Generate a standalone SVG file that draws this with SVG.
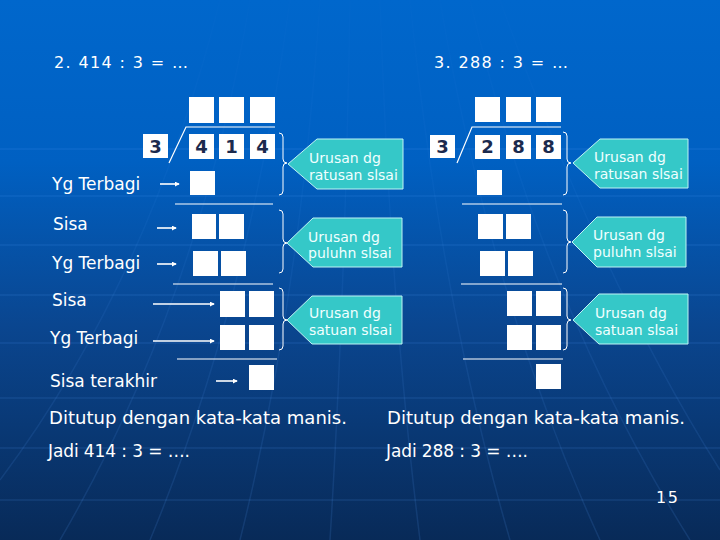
<svg xmlns="http://www.w3.org/2000/svg" width="720" height="540" viewBox="0 0 720 540">
<defs>
<linearGradient id="bg" x1="0" y1="0" x2="0" y2="1">
<stop offset="0" stop-color="#0067cc"/>
<stop offset="0.3" stop-color="#0060c2"/>
<stop offset="0.6" stop-color="#0a4690"/>
<stop offset="1" stop-color="#082a58"/>
</linearGradient>
<linearGradient id="fade" x1="0" y1="0" x2="0" y2="1">
<stop offset="0" stop-color="#ffffff" stop-opacity="0.1"/>
<stop offset="1" stop-color="#ffffff" stop-opacity="1"/>
</linearGradient>
<mask id="vmask"><rect x="0" y="0" width="720" height="540" fill="url(#fade)"/></mask>
<marker id="ah" viewBox="0 0 6 6" refX="5" refY="3" markerWidth="5" markerHeight="5" orient="auto" markerUnits="userSpaceOnUse">
<path d="M0,0 L6,3 L0,6 z" fill="#ffffff"/>
</marker>
<style>
.lbl{font-family:"DejaVu Sans","Liberation Sans",sans-serif;font-size:17px;fill:#ffffff}
.big{font-family:"DejaVu Sans","Liberation Sans",sans-serif;font-size:17px;fill:#ffffff}
.hdr{font-family:"DejaVu Sans","Liberation Sans",sans-serif;font-size:16px;fill:#ffffff}
.box{fill:#ffffff}
.dig{font-family:"DejaVu Sans","Liberation Sans",sans-serif;font-size:18px;font-weight:bold;fill:#1b2a4e;text-anchor:middle}
.rule{stroke:#ffffff;stroke-width:1.2;fill:none}
.brace{stroke:#ffffff;stroke-width:1;fill:none}
.arr{stroke:#ffffff;stroke-width:1.6;fill:none;marker-end:url(#ah)}
.call{fill:#35c8c8;stroke:#bff4f4;stroke-width:1}
.ctx{font-family:"DejaVu Sans","Liberation Sans",sans-serif;font-size:14px;fill:#f0ffff}
.grid{stroke:#5aa0ff;stroke-width:1.5;fill:none;opacity:0.14}
</style>
</defs>
<rect x="0" y="0" width="720" height="540" fill="url(#bg)"/>
<g id="background-grid">
<path class="grid" d="M0,149 H720 M0,196 H720 M0,245 H720 M0,295 H720 M0,343 H720 M0,398 H720 M0,448 H720 M0,500 H720"/>
<g mask="url(#vmask)">
<path class="grid" d="M250,0 Q200,300 60,540 M290,0 Q250,300 150,540 M320,0 Q300,300 240,540 M350,0 Q345,300 330,540 M380,0 Q390,300 420,540 M410,0 Q440,300 510,540 M440,0 Q490,300 600,540 M470,0 Q540,300 690,540 M220,0 Q150,280 0,480 M500,0 Q600,280 720,470"/>
</g>
</g>

<g id="headers">
<text class="hdr" x="54" y="68" textLength="134" lengthAdjust="spacing">2. 414 : 3 = …</text>
<text class="hdr" x="434" y="68" textLength="134" lengthAdjust="spacing">3. 288 : 3 = …</text>
</g>

<!-- LEFT PROBLEM -->
<g id="left-quotient">
<rect class="box" x="189" y="97" width="25" height="26"/>
<rect class="box" x="219" y="97" width="25" height="26"/>
<rect class="box" x="250" y="97" width="25" height="26"/>
</g>
<g id="left-divisor">
<rect class="box" x="143" y="134" width="25" height="24"/>
<text class="dig" x="155.5" y="153">3</text>
</g>
<g id="left-dividend">
<rect class="box" x="189" y="134" width="25" height="25"/>
<rect class="box" x="219" y="134" width="25" height="25"/>
<rect class="box" x="250" y="134" width="25" height="25"/>
<text class="dig" x="201.5" y="153">4</text>
<text class="dig" x="231.5" y="153">1</text>
<text class="dig" x="262.5" y="153">4</text>
</g>
<g id="left-step1">
<rect class="box" x="190" y="171" width="25" height="24"/>
<rect class="box" x="192" y="214" width="24" height="25"/>
<rect class="box" x="219" y="214" width="25" height="25"/>
<rect class="box" x="193" y="251" width="25" height="25"/>
<rect class="box" x="221" y="251" width="25" height="25"/>
</g>
<g id="left-step2">
<rect class="box" x="220" y="291" width="25" height="26"/>
<rect class="box" x="249" y="291" width="25" height="26"/>
<rect class="box" x="220" y="325" width="25" height="25"/>
<rect class="box" x="249" y="325" width="25" height="25"/>
<rect class="box" x="249" y="365" width="25" height="25"/>
</g>
<g id="left-labels">
<text class="lbl" x="52" y="190">Yg Terbagi</text>
<text class="lbl" x="53" y="230">Sisa</text>
<text class="lbl" x="52" y="269">Yg Terbagi</text>
<text class="lbl" x="52" y="306">Sisa</text>
<text class="lbl" x="50" y="344">Yg Terbagi</text>
<text class="lbl" x="50" y="387">Sisa terakhir</text>
</g>

<!-- RIGHT PROBLEM -->
<g id="right-quotient">
<rect class="box" x="475" y="97" width="25" height="25"/>
<rect class="box" x="506" y="97" width="25" height="25"/>
<rect class="box" x="536" y="97" width="25" height="25"/>
</g>
<g id="right-divisor">
<rect class="box" x="430" y="135" width="25" height="23"/>
<text class="dig" x="442.5" y="153">3</text>
</g>
<g id="right-dividend">
<rect class="box" x="475" y="135" width="25" height="24"/>
<rect class="box" x="506" y="135" width="25" height="24"/>
<rect class="box" x="536" y="135" width="25" height="24"/>
<text class="dig" x="487.5" y="153">2</text>
<text class="dig" x="518.5" y="153">8</text>
<text class="dig" x="548.5" y="153">8</text>
</g>
<g id="right-step1">
<rect class="box" x="477" y="170" width="25" height="25"/>
<rect class="box" x="478" y="214" width="25" height="25"/>
<rect class="box" x="506" y="214" width="25" height="25"/>
<rect class="box" x="480" y="251" width="25" height="25"/>
<rect class="box" x="508" y="251" width="25" height="25"/>
</g>
<g id="right-step2">
<rect class="box" x="507" y="291" width="25" height="25"/>
<rect class="box" x="536" y="291" width="25" height="25"/>
<rect class="box" x="507" y="325" width="25" height="25"/>
<rect class="box" x="536" y="325" width="25" height="25"/>
<rect class="box" x="536" y="364" width="25" height="25"/>
</g>

<!-- CALLOUTS -->
<g id="callout-left-1">
<path class="call" d="M288,164 L317,139 L403,139 L403,189 L317,189 Z"/>
<text class="ctx" x="309" y="163">Urusan dg</text>
<text class="ctx" x="309" y="180">ratusan slsai</text>
</g>
<g id="callout-left-2">
<path class="call" d="M287,243 L313,218 L402,218 L402,267 L313,267 Z"/>
<text class="ctx" x="308" y="242">Urusan dg</text>
<text class="ctx" x="308" y="258">puluhn slsai</text>
</g>
<g id="callout-left-3">
<path class="call" d="M287,320 L312,296 L402,296 L402,344 L312,344 Z"/>
<text class="ctx" x="309" y="318">Urusan dg</text>
<text class="ctx" x="309" y="335">satuan slsai</text>
</g>
<g id="callout-right-1">
<path class="call" d="M573,163 L600,139 L688,139 L688,188 L600,188 Z"/>
<text class="ctx" x="594" y="162">Urusan dg</text>
<text class="ctx" x="594" y="179">ratusan slsai</text>
</g>
<g id="callout-right-2">
<path class="call" d="M572,242 L597,217 L686,217 L686,267 L597,267 Z"/>
<text class="ctx" x="593" y="240">Urusan dg</text>
<text class="ctx" x="593" y="257">puluhn slsai</text>
</g>
<g id="callout-right-3">
<path class="call" d="M573,320 L599,294 L688,294 L688,344 L599,344 Z"/>
<text class="ctx" x="595" y="318">Urusan dg</text>
<text class="ctx" x="595" y="335">satuan slsai</text>
</g>

<g id="connectors">
<path class="rule" d="M169,163 L186,127 L275,127"/>
<path class="rule" d="M457,163 L472,127 L561,127"/>
<path class="rule" d="M175,204 H273 M173,284 H273 M177,359 H277"/>
<path class="rule" d="M462,204 H562 M461,284 H562 M463,359 H563"/>
<path class="brace" d="M279,133 Q283,133 283,137 L283,159 Q283,163 287,163 Q283,163 283,167 L283,191 Q283,195 279,195"/>
<path class="brace" d="M279,210 Q283,210 283,214 L283,239 Q283,243 287,243 Q283,243 283,247 L283,269 Q283,273 279,273"/>
<path class="brace" d="M279,288 Q283,288 283,292 L283,316 Q283,320 287,320 Q283,320 283,324 L283,346 Q283,350 279,350"/>
<path class="brace" d="M563,132 Q567,132 567,136 L567,159 Q567,163 571,163 Q567,163 567,167 L567,191 Q567,195 563,195"/>
<path class="brace" d="M563,210 Q567,210 567,214 L567,238 Q567,242 571,242 Q567,242 567,246 L567,269 Q567,273 563,273"/>
<path class="brace" d="M563,288 Q567,288 567,292 L567,316 Q567,320 571,320 Q567,320 567,324 L567,346 Q567,350 563,350"/>
<line class="arr" x1="160" y1="184" x2="179" y2="184"/>
<line class="arr" x1="157" y1="228" x2="176" y2="228"/>
<line class="arr" x1="157" y1="264" x2="176" y2="264"/>
<line class="arr" x1="153" y1="304" x2="214" y2="304"/>
<line class="arr" x1="153" y1="341" x2="214" y2="341"/>
<line class="arr" x1="216" y1="381" x2="237" y2="381"/>
</g>

<g id="closing">
<text class="big" x="49" y="424" textLength="298" lengthAdjust="spacingAndGlyphs">Ditutup dengan kata-kata manis.</text>
<text class="big" x="48" y="457" textLength="142" lengthAdjust="spacing">Jadi 414 : 3 = ….</text>
<text class="big" x="387" y="424" textLength="298" lengthAdjust="spacingAndGlyphs">Ditutup dengan kata-kata manis.</text>
<text class="big" x="386" y="457" textLength="142" lengthAdjust="spacing">Jadi 288 : 3 = ….</text>
<text class="hdr" x="656" y="503" textLength="22" lengthAdjust="spacing">15</text>
</g>
</svg>
